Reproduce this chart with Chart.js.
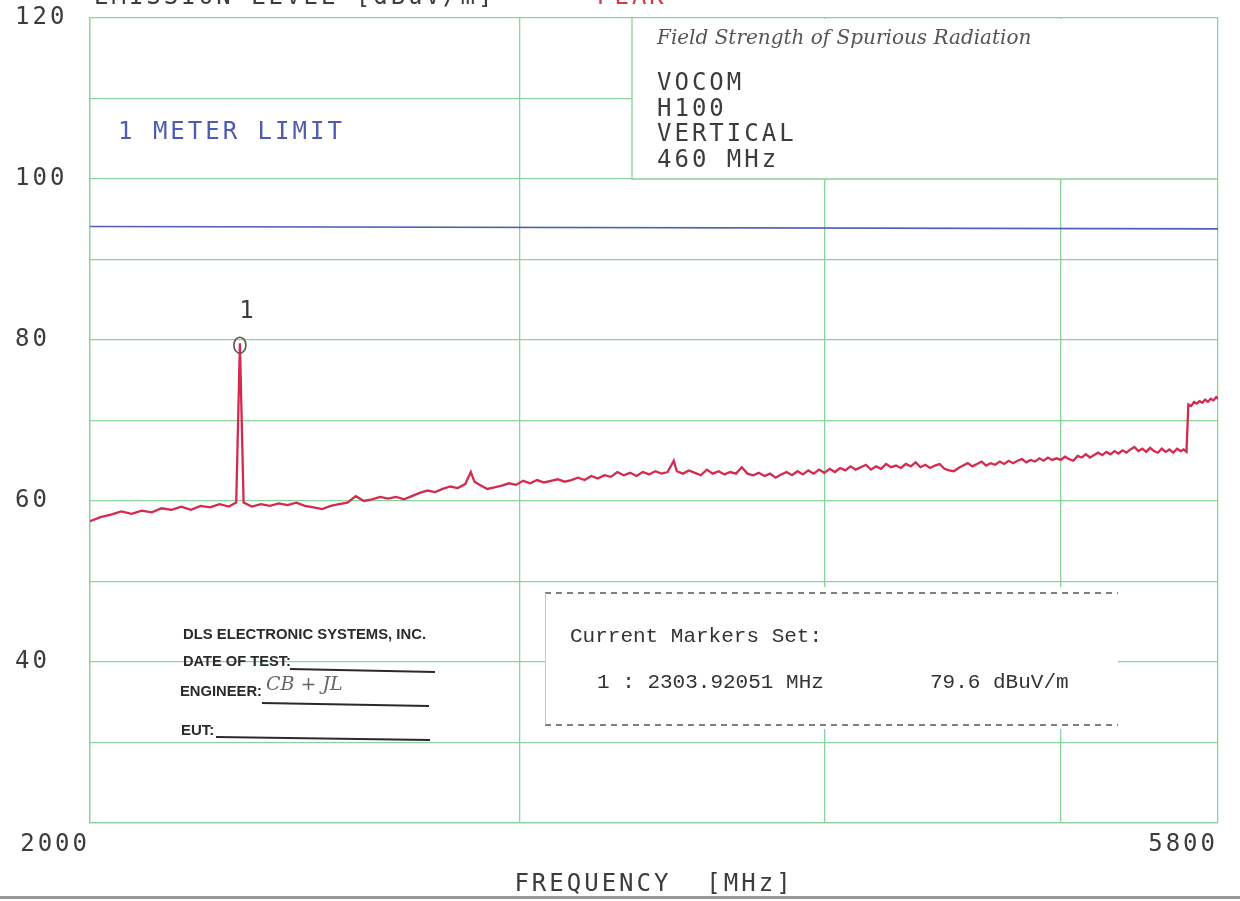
<!DOCTYPE html>
<html>
<head>
<meta charset="utf-8">
<script src="https://cdn.jsdelivr.net/npm/chart.js@4.4.1/dist/chart.umd.min.js"></script>
<style>
html,body{margin:0;padding:0;background:#fff;}
#wrap{position:relative;width:1240px;height:901px;}
</style>
</head>
<body>
<div id="wrap"><canvas id="c"></canvas></div>
<script>
// ---- data ----
const freqMHz = [
  2000,2020,2040,2060,2080,2100,2120,2140,2160,2180,
  2200,2220,2240,2260,2280,2296,2304,2312,2330,2350,
  2370,2390,2410,2430,2450,2470,2490,2510,2530,2550,
  2570,2590,2610,2630,2650,2670,2690,2710,2730,2750,
  2770,2790,2810,2830,2850,2865,2875,2890,2910,2930,
  2950,2970,2990,3010,3030,3050,3070,3090,3110,3130,
  3150,3170,3190,3210,3230,3250,3270,3290,3310,3330,
  3350,3370,3390,3410,3430,3450,3470,3480,3500,3520,
  3540,3560,3580,3600,3620,3640,3660,3680,3700,3720,
  3740,3760,3780,3800,3820,3840,3860,3880,3900,3920,
  3940,3960,3980,4000,4020,4040,4060,4080,4100,4120,
  4140,4160,4180,4200,4220,4240,4260,4280,4300,4320,
  4340,4360,4380,4400,4420,4440,4460,4480,4500,4520,
  4540,4560,4580,4600,4620,4640,4660,4680,4700,4720,
  4740,4760,4780,4800,4820,4840,4860,4880,4900,4920,
  4940,4960,4980,5000,5020,5040,5060,5080,5100,5120,
  5140,5160,5180,5200,5220,5240,5260,5280,5300,5320,
  5340,5360,5380,5400,5420,5440,5460,5480,5500,5520,
  5540,5560,5580,5600,5615,5630,5640,5655,5670,5685,
  5700,5715,5730,5745,5760,5775,5790,5800
];
const levelDb = [
  57.5,58.0,58.3,58.7,58.4,58.8,58.6,59.1,58.9,59.3,
  58.9,59.4,59.2,59.6,59.3,59.8,79.6,59.8,59.3,59.6,
  59.4,59.7,59.5,59.8,59.4,59.2,59.0,59.4,59.6,59.8,
  60.6,60.0,60.2,60.5,60.3,60.5,60.2,60.6,61.0,61.3,
  61.1,61.5,61.8,61.6,62.1,63.6,62.4,62.0,61.5,61.7,
  61.9,62.2,62.0,62.5,62.2,62.6,62.3,62.5,62.7,62.4,
  62.6,62.9,62.6,63.1,62.8,63.2,63.0,63.6,63.2,63.5,
  63.1,63.6,63.3,63.7,63.4,63.6,65.0,63.7,63.4,63.8,
  63.5,63.2,63.9,63.4,63.7,63.3,63.6,63.4,64.2,63.4,
  63.2,63.5,63.1,63.4,62.9,63.3,63.6,63.2,63.7,63.3,
  63.8,63.4,63.9,63.5,64.0,63.6,64.1,63.8,64.3,63.9,
  64.2,64.5,63.9,64.3,64.0,64.6,64.2,64.4,64.1,64.6,
  64.3,64.8,64.2,64.5,64.1,64.4,64.6,64.0,63.8,63.7,
  64.1,64.4,64.7,64.3,64.6,64.9,64.4,64.7,64.5,64.9,
  64.6,65.0,64.7,65.0,65.2,64.8,65.1,64.9,65.3,65.0,
  65.4,65.1,65.3,65.1,65.5,65.2,65.0,65.6,65.4,65.8,
  65.4,65.7,66.0,65.7,66.1,65.8,66.2,65.9,66.3,66.0,
  66.4,66.7,66.2,66.5,66.1,66.6,66.2,66.0,66.5,66.1,
  66.4,66.0,66.5,66.2,66.4,66.1,72.0,71.8,72.3,72.1,
  72.4,72.2,72.6,72.3,72.7,72.5,72.9,72.7
];
const limitFreq = [2000, 5800];
const limitDb = [94.1, 93.8];
const xTickValues = [2000, 3000, 4000, 5000, 5800];
const xTickLabels = ['2000', '', '', '', '5800'];
const yTickLabelValues = [40, 60, 80, 100, 120];
const markerFreq = 2303.92051;
const markerLevel = 79.6;
const markerNo = '1';
const infoLines = ['VOCOM', 'H100', 'VERTICAL', '460 MHz'];
const handTitle = 'Field Strength of Spurious Radiation';
const markerText = ['Current Markers Set:', '1 : 2303.92051 MHz', '79.6 dBuV/m'];
const stampLines = ['DLS ELECTRONIC SYSTEMS, INC.', 'DATE OF TEST:', 'ENGINEER:', 'EUT:'];

const PLOT_FONT = '"DejaVu Sans Mono", monospace';
const GRID = '#8bd39c';
const INK = '#3c3c3c';
const SPACING = '3px';

const trace = freqMHz.map((f, i) => ({x: f, y: levelDb[i]}));
const limit = limitFreq.map((f, i) => ({x: f, y: limitDb[i]}));

const annot = {
  id: 'annot',
  beforeDraw(chart) {
    chart.ctx.letterSpacing = SPACING;
  },
  beforeDatasetsDraw(chart) {
    const ctx = chart.ctx, a = chart.chartArea, ys = chart.scales.y;
    ctx.save();
    const bx = 632, by = a.top, bb = ys.getPixelForValue(100);
    ctx.fillStyle = '#fff';
    ctx.fillRect(bx, by + 1, a.right - bx - 1, bb - by - 1);
    ctx.strokeStyle = GRID; ctx.lineWidth = 1.3;
    ctx.beginPath(); ctx.moveTo(bx, by); ctx.lineTo(bx, bb); ctx.lineTo(a.right, bb); ctx.stroke();
    ctx.fillStyle = '#fff';
    ctx.fillRect(545, 587, 573, 142);
    ctx.strokeStyle = '#555'; ctx.lineWidth = 1.4; ctx.setLineDash([6, 5]);
    ctx.beginPath(); ctx.moveTo(545, 593); ctx.lineTo(1118, 593); ctx.moveTo(545, 725); ctx.lineTo(1118, 725); ctx.stroke();
    ctx.setLineDash([]);
    ctx.strokeStyle = '#c8c8c8'; ctx.lineWidth = 1;
    ctx.beginPath(); ctx.moveTo(545.5, 593); ctx.lineTo(545.5, 725); ctx.stroke();
    ctx.restore();
  },
  afterDraw(chart) {
    const ctx = chart.ctx, xs = chart.scales.x, ys = chart.scales.y;
    ctx.save();
    ctx.textBaseline = 'alphabetic';
    ctx.textAlign = 'left';
    ctx.letterSpacing = SPACING;
    ctx.font = '24px ' + PLOT_FONT;
    ctx.fillStyle = INK;
    ctx.fillText('EMISSION LEVEL [dBuV/m]', 94, 4);
    ctx.fillStyle = '#d83a4a';
    ctx.fillText('PEAK', 597, 4);
    ctx.fillStyle = '#4d5bb0';
    ctx.fillText('1 METER LIMIT', 118, 139);
    ctx.fillStyle = INK;
    infoLines.forEach((t, i) => ctx.fillText(t, 657, 90 + i * 25.7));
    const px = xs.getPixelForValue(markerFreq), py = ys.getPixelForValue(markerLevel);
    ctx.textAlign = 'center';
    ctx.fillText(markerNo, px + 8, 318);
    ctx.strokeStyle = '#555'; ctx.lineWidth = 1.6;
    ctx.beginPath(); ctx.ellipse(px, py + 2, 6, 8, 0, 0, Math.PI * 2); ctx.stroke();
    ctx.letterSpacing = '0px';
    ctx.textAlign = 'left';
    ctx.fillStyle = '#555';
    ctx.font = 'italic 20px "DejaVu Serif", serif';
    ctx.fillText(handTitle, 657, 44, 433);
    ctx.fillStyle = '#333';
    ctx.font = '21px "Liberation Mono", monospace';
    ctx.fillText(markerText[0], 570, 642);
    ctx.fillText(markerText[1], 597, 688);
    ctx.fillText(markerText[2], 930, 688);
    ctx.fillStyle = '#2a2a2a';
    ctx.font = 'bold 15px "Liberation Sans", sans-serif';
    ctx.fillText(stampLines[0], 183, 639, 243);
    ctx.fillText(stampLines[1], 183, 666, 108);
    ctx.fillText(stampLines[2], 180, 696, 82);
    ctx.fillText(stampLines[3], 181, 735, 34);
    ctx.strokeStyle = '#2a2a2a'; ctx.lineWidth = 1.8;
    ctx.beginPath();
    ctx.moveTo(290, 669); ctx.lineTo(435, 672);
    ctx.moveTo(262, 703); ctx.lineTo(429, 706);
    ctx.moveTo(216, 737); ctx.lineTo(430, 740);
    ctx.stroke();
    ctx.fillStyle = '#666';
    ctx.font = 'italic 19px "DejaVu Serif", serif';
    ctx.fillText('CB + JL', 266, 690, 82);
    ctx.fillStyle = '#9a9a9a';
    ctx.fillRect(0, 896, 1240, 3);
    ctx.restore();
  }
};

new Chart(document.getElementById('c'), {
  type: 'line',
  data: {
    datasets: [
      {data: trace, borderColor: '#d42a4e', borderWidth: 2.3, pointRadius: 0, tension: 0, order: 2},
      {data: limit, borderColor: '#4f5fb5', borderWidth: 1.6, pointRadius: 0, tension: 0, order: 1}
    ]
  },
  options: {
    responsive: true,
    maintainAspectRatio: false,
    animation: false,
    events: [],
    layout: {padding: {top: 18, right: 22, left: 15, bottom: 0}},
    plugins: {legend: {display: false}, tooltip: {enabled: false}, title: {display: false}},
    scales: {
      x: {
        type: 'logarithmic',
        min: 2000, max: 5800,
        afterBuildTicks: (axis) => { axis.ticks = xTickValues.map(v => ({value: v})); },
        afterFit: (s) => { s.height = 78; },
        grid: {color: GRID, lineWidth: 1.3, drawTicks: false},
        border: {color: GRID, width: 1.3},
        ticks: {
          autoSkip: false, maxRotation: 0, padding: 7, align: 'end',
          color: INK, font: {family: PLOT_FONT, size: 24},
          callback: (v, i) => xTickLabels[i]
        },
        title: {display: true, text: 'FREQUENCY  [MHz]', color: INK,
                font: {family: PLOT_FONT, size: 24}, padding: {top: 0, bottom: 2}}
      },
      y: {
        type: 'linear',
        min: 20, max: 120,
        afterFit: (s) => { s.width = 75; },
        grid: {color: GRID, lineWidth: 1.3, drawTicks: false},
        border: {color: GRID, width: 1.3},
        ticks: {
          stepSize: 10, autoSkip: false, crossAlign: 'far', padding: 0,
          color: INK, font: {family: PLOT_FONT, size: 24},
          callback: (v) => yTickLabelValues.includes(v) ? String(v) : ''
        }
      }
    }
  },
  plugins: [annot]
});
</script>
</body>
</html>
